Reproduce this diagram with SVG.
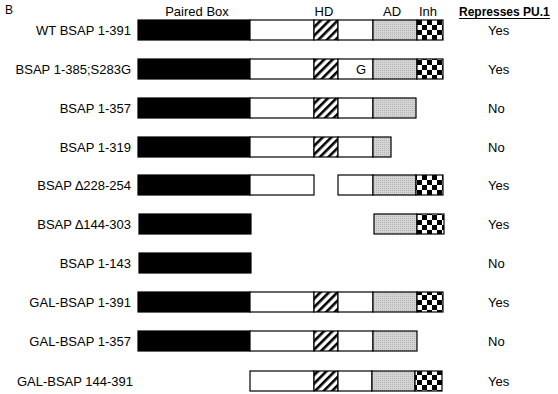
<svg xmlns="http://www.w3.org/2000/svg" width="558" height="394" viewBox="0 0 558 394">
<defs>
<pattern id="hatch" patternUnits="userSpaceOnUse" width="6" height="6" patternTransform="rotate(45)">
<rect width="6" height="6" fill="#fff"/>
<rect x="0" y="0" width="2.6" height="6" fill="#000"/>
</pattern>
<pattern id="gray" patternUnits="userSpaceOnUse" width="2" height="2">
<rect width="2" height="2" fill="#d4d4d4"/>
<rect width="1" height="1" fill="#b8b8b8"/>
</pattern>
<pattern id="check" patternUnits="userSpaceOnUse" x="417" y="0" width="10" height="10">
<rect width="10" height="10" fill="#fff"/>
<rect width="5" height="5" fill="#000"/>
<rect x="5" y="5" width="5" height="5" fill="#000"/>
</pattern>
</defs>
<style>
text{font-family:"Liberation Sans",Arial,sans-serif;font-size:13px;fill:#000}
.lbl{text-anchor:end}
.hd{text-anchor:middle}
.b{fill:#000;stroke:#000;stroke-width:1.2}
.w{fill:#fff;stroke:#000;stroke-width:1.2}
.h{fill:url(#hatch);stroke:#000;stroke-width:1.2}
.g{fill:url(#gray);stroke:#000;stroke-width:1.2}
.c{fill:url(#check);stroke:#000;stroke-width:1.2}
</style>
<text x="5" y="14" style="font-size:12px">B</text>
<g id="header">
<text class="hd" x="197" y="16">Paired Box</text>
<text class="hd" x="324" y="16">HD</text>
<text class="hd" x="392" y="16">AD</text>
<text class="hd" x="428" y="16">Inh</text>
<text x="459" y="16" style="font-weight:bold;font-size:12px">Represses PU.1</text>
<line x1="459" y1="18.5" x2="550" y2="18.5" stroke="#000" stroke-width="1"/>
</g>
<g id="row1">
<text class="lbl" x="131" y="35">WT BSAP 1-391</text>
<rect class="b" x="138" y="20" width="112" height="20"/>
<rect class="w" x="250" y="20" width="64" height="20"/>
<rect class="h" x="314" y="20" width="24" height="20"/>
<rect class="w" x="338" y="20" width="35" height="20"/>
<rect class="g" x="373" y="20" width="44" height="20"/>
<rect class="c" x="417" y="20" width="26" height="20"/>
<text x="488" y="35">Yes</text>
</g>
<g id="row2">
<text class="lbl" x="131" y="74">BSAP 1-385;S283G</text>
<rect class="b" x="138" y="59" width="112" height="20"/>
<rect class="w" x="250" y="59" width="64" height="20"/>
<rect class="h" x="314" y="59" width="24" height="20"/>
<rect class="w" x="338" y="59" width="35" height="20"/>
<text x="356" y="74">G</text>
<rect class="g" x="373" y="59" width="44" height="20"/>
<rect class="c" x="417" y="59" width="26" height="20"/>
<text x="488" y="74">Yes</text>
</g>
<g id="row3">
<text class="lbl" x="131" y="113">BSAP 1-357</text>
<rect class="b" x="138" y="98" width="112" height="20"/>
<rect class="w" x="250" y="98" width="64" height="20"/>
<rect class="h" x="314" y="98" width="24" height="20"/>
<rect class="w" x="338" y="98" width="35" height="20"/>
<rect class="g" x="373" y="98" width="43" height="20"/>
<text x="488" y="113">No</text>
</g>
<g id="row4">
<text class="lbl" x="131" y="152">BSAP 1-319</text>
<rect class="b" x="138" y="137" width="112" height="20"/>
<rect class="w" x="250" y="137" width="64" height="20"/>
<rect class="h" x="314" y="137" width="24" height="20"/>
<rect class="w" x="338" y="137" width="35" height="20"/>
<rect class="g" x="373" y="137" width="18" height="20"/>
<text x="488" y="152">No</text>
</g>
<g id="row5">
<text class="lbl" x="131" y="190">BSAP ∆228-254</text>
<rect class="b" x="138" y="175" width="112" height="20"/>
<rect class="w" x="250" y="175" width="64" height="20"/>
<rect class="w" x="338" y="175" width="35" height="20"/>
<rect class="g" x="373" y="175" width="43" height="20"/>
<rect class="c" x="416" y="175" width="27" height="20"/>
<text x="488" y="190">Yes</text>
</g>
<g id="row6">
<text class="lbl" x="131" y="229">BSAP ∆144-303</text>
<rect class="b" x="139" y="214" width="112" height="20"/>
<rect class="g" x="374" y="214" width="43" height="20"/>
<rect class="c" x="417" y="214" width="27" height="20"/>
<text x="488" y="229">Yes</text>
</g>
<g id="row7">
<text class="lbl" x="131" y="268">BSAP 1-143</text>
<rect class="b" x="139" y="253" width="112" height="20"/>
<text x="488" y="268">No</text>
</g>
<g id="row8">
<text class="lbl" x="131" y="307">GAL-BSAP 1-391</text>
<rect class="b" x="138" y="292" width="112" height="20"/>
<rect class="w" x="250" y="292" width="64" height="20"/>
<rect class="h" x="314" y="292" width="24" height="20"/>
<rect class="w" x="338" y="292" width="35" height="20"/>
<rect class="g" x="373" y="292" width="44" height="20"/>
<rect class="c" x="417" y="292" width="26" height="20"/>
<text x="488" y="307">Yes</text>
</g>
<g id="row9">
<text class="lbl" x="131" y="346">GAL-BSAP 1-357</text>
<rect class="b" x="138" y="331" width="112" height="20"/>
<rect class="w" x="250" y="331" width="64" height="20"/>
<rect class="h" x="314" y="331" width="24" height="20"/>
<rect class="w" x="338" y="331" width="35" height="20"/>
<rect class="g" x="373" y="331" width="44" height="20"/>
<text x="488" y="346">No</text>
</g>
<g id="row10">
<text class="lbl" x="133" y="386">GAL-BSAP 144-391</text>
<rect class="w" x="250" y="371" width="64" height="20"/>
<rect class="h" x="314" y="371" width="24" height="20"/>
<rect class="w" x="338" y="371" width="34" height="20"/>
<rect class="g" x="372" y="371" width="43" height="20"/>
<rect class="c" x="415" y="371" width="27" height="20"/>
<text x="488" y="386">Yes</text>
</g>
</svg>
